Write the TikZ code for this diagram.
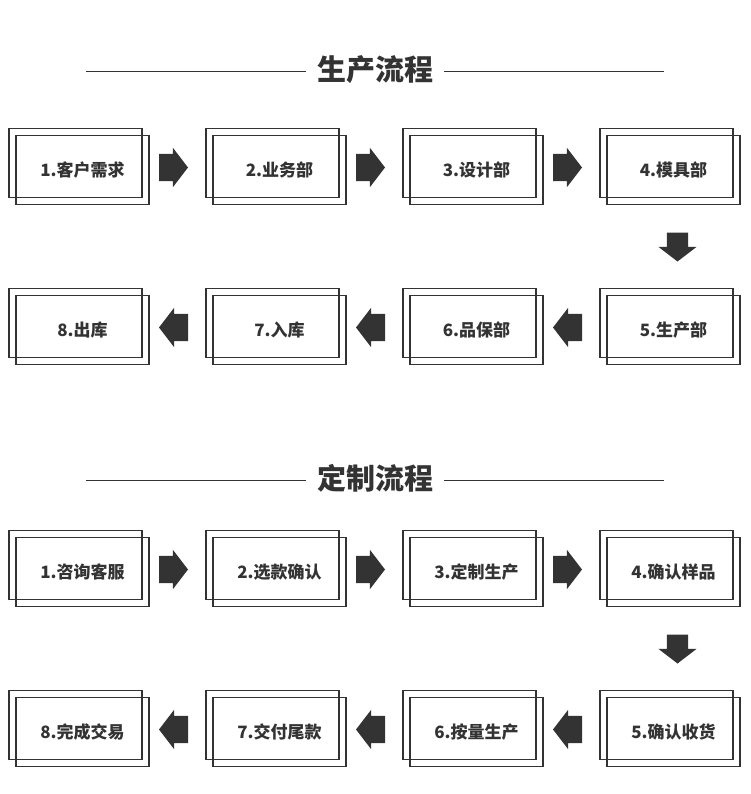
\documentclass[tikz,border=0pt]{standalone}
\usepackage{fontspec}
\newfontfamily\cjk{Noto Sans CJK SC}
\usetikzlibrary{positioning, shapes.arrows}
\definecolor{inkgray}{RGB}{51,51,51}

\begin{document}
\begin{tikzpicture}[x=1pt, y=1pt,
    stage/.style={draw=inkgray, line width=1.4pt, minimum width=133pt, minimum height=69pt,
                  inner sep=0pt, outer sep=0pt, text=inkgray,
                  font=\cjk\bfseries\fontsize{17}{17}\selectfont,
                  preaction={draw=inkgray, transform canvas={shift={(-7pt,7pt)}}}},
    flow/.style={single arrow, fill=inkgray, draw=none, minimum height=29pt, outer sep=0pt,
                 inner xsep=0pt, inner ysep=13.5pt, single arrow head extend=6pt,
                 single arrow tip angle=105},
    flow back/.style={flow, shape border rotate=180},
    flow down/.style={flow, shape border rotate=270, inner xsep=10.5pt, inner ysep=0pt,
                      single arrow head extend=8.5pt},
    title/.style={text=inkgray, inner xsep=11pt, font=\cjk\bfseries\fontsize{29}{29}\selectfont},
    rule/.style={draw=inkgray, line width=1pt}
  ]
  \useasboundingbox (0,0) rectangle (750,-794);

  % production flow
  \node[title] (t1) at (375,-70) {生产流程};
  \draw[rule] ([yshift=-2pt]t1.west) -- ++(-220,0);
  \draw[rule] ([yshift=-2pt]t1.east) -- ++(220,0);

  \node[stage] (a1) at (82.5,-170)   {1.客户需求};
  \node[stage, right=64pt of a1] (a2) {2.业务部};
  \node[stage, right=64pt of a2] (a3) {3.设计部};
  \node[stage, right=64pt of a3] (a4) {4.模具部};
  \node[stage, below=91pt of a4] (a5) {5.生产部};
  \node[stage, left=64pt of a5]  (a6) {6.品保部};
  \node[stage, left=64pt of a6]  (a7) {7.入库};
  \node[stage, left=64pt of a7]  (a8) {8.出库};

  \node[flow, right=10pt of a1, yshift=2.5pt] (f1) {};
  \node[flow, right=10pt of a2, yshift=2.5pt] (f2) {};
  \node[flow, right=10pt of a3, yshift=2.5pt] (f3) {};
  \node[flow down, below=28pt of a4, xshift=4pt] (f4) {};
  \node[flow back, right=10pt of a6, yshift=2.5pt] (f5) {};
  \node[flow back, right=10pt of a7, yshift=2.5pt] (f6) {};
  \node[flow back, right=10pt of a8, yshift=2.5pt] (f7) {};

  % custom flow
  \node[title] (t2) at (375,-478) {定制流程};
  \draw[rule] ([yshift=-2pt]t2.west) -- ++(-220,0);
  \draw[rule] ([yshift=-2pt]t2.east) -- ++(220,0);

  \node[stage] (c1) at (82.5,-572)   {1.咨询客服};
  \node[stage, right=64pt of c1] (c2) {2.选款确认};
  \node[stage, right=64pt of c2] (c3) {3.定制生产};
  \node[stage, right=64pt of c3] (c4) {4.确认样品};
  \node[stage, below=91pt of c4] (c5) {5.确认收货};
  \node[stage, left=64pt of c5]  (c6) {6.按量生产};
  \node[stage, left=64pt of c6]  (c7) {7.交付尾款};
  \node[stage, left=64pt of c7]  (c8) {8.完成交易};

  \node[flow, right=10pt of c1, yshift=2.5pt] (g1) {};
  \node[flow, right=10pt of c2, yshift=2.5pt] (g2) {};
  \node[flow, right=10pt of c3, yshift=2.5pt] (g3) {};
  \node[flow down, below=28pt of c4, xshift=4pt] (g4) {};
  \node[flow back, right=10pt of c6, yshift=2.5pt] (g5) {};
  \node[flow back, right=10pt of c7, yshift=2.5pt] (g6) {};
  \node[flow back, right=10pt of c8, yshift=2.5pt] (g7) {};
\end{tikzpicture}
\end{document}
